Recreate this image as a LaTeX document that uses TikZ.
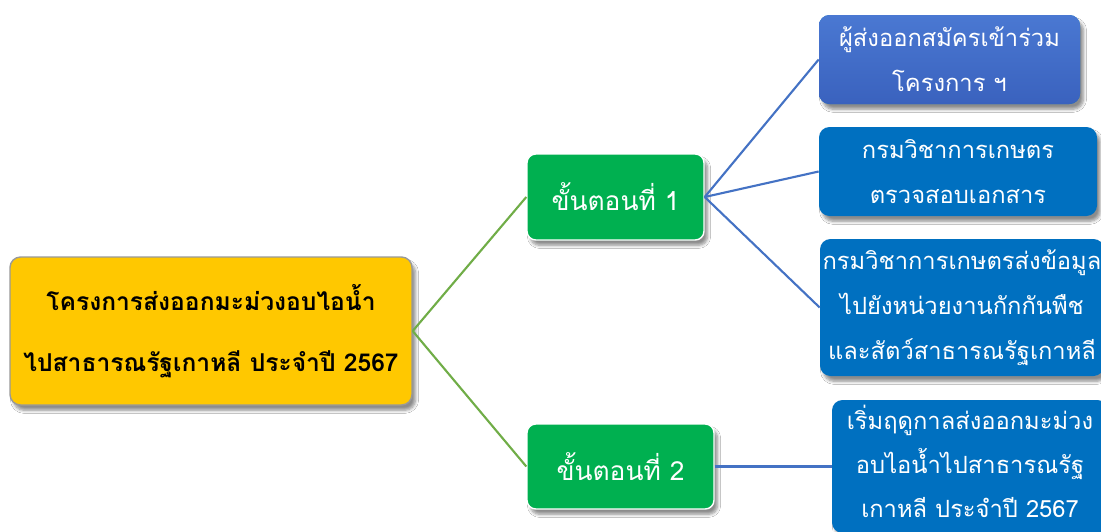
\documentclass[tikz,border=0pt]{standalone}
\usepackage{fontspec}
\newfontfamily\thaifont[Script=Thai]{Loma}
\usetikzlibrary{shadows.blur}
\definecolor{gold}{HTML}{FFC800}
\definecolor{stepgreen}{HTML}{00B050}
\definecolor{boxblue}{HTML}{0070C0}
\definecolor{blueA}{HTML}{4A78D2}
\definecolor{blueB}{HTML}{3A62BE}
\definecolor{lgreen}{HTML}{70AD47}
\definecolor{lblue}{HTML}{4472C4}
\newcommand\pxu{0.02cm}
\tikzset{
  shad/.style={blur shadow={shadow xshift=2pt,shadow yshift=-3pt,shadow blur steps=6,shadow opacity=45}},
  mainbox/.style={draw=gray!80,line width=0.8pt,fill=gold,rounded corners=6pt,shad,align=center,
     font=\thaifont\bfseries\fontsize{14}{35}\selectfont,text=black,inner sep=0pt},
  stepbox/.style={draw=white,line width=0.8pt,fill=stepgreen,rounded corners=5pt,shad,
     font=\thaifont\fontsize{15}{18}\selectfont,text=white,inner sep=0pt},
  infobox/.style={fill=boxblue,rounded corners=6pt,shad,align=center,
     font=\thaifont\fontsize{13.5}{25.5}\selectfont,text=white,inner sep=0pt},
  infotext/.style={align=center,font=\thaifont\fontsize{13.5}{25}\selectfont,text=white,inner sep=0pt},
  gline/.style={draw=lgreen,line width=1.2pt},
  bline/.style={draw=lblue,line width=1.2pt},
}
\begin{document}
\begin{tikzpicture}[x=0.02cm,y=-0.02cm]
\useasboundingbox[fill=white] (0,0) rectangle (1101,531);
\node[mainbox,minimum width=402*\pxu,minimum height=148*\pxu] (main) at (211,331)
  {โครงการส่งออกมะม่วงอบไอน้ำ\\ไปสาธารณรัฐเกาหลี ประจำปี 2567};
\node[stepbox,minimum width=177*\pxu,minimum height=86*\pxu] (s1) at (615.5,197) {ขั้นตอนที่ 1};
\node[stepbox,minimum width=187*\pxu,minimum height=85*\pxu] (s2) at (620.5,466.5) {ขั้นตอนที่ 2};
\node[infobox,top color=blueA,bottom color=blueB,minimum width=261*\pxu,minimum height=89*\pxu] (b1) at (949.5,59.5)
  {ผู้ส่งออกสมัครเข้าร่วม\\โครงการ ฯ};
\node[infobox,minimum width=278*\pxu,minimum height=89*\pxu] (b2) at (958,171.5)
  {กรมวิชาการเกษตร\\ตรวจสอบเอกสาร};
\node[infobox,minimum width=284*\pxu,minimum height=137*\pxu] (b3) at (962,307.5)
  {กรมวิชาการเกษตรส่งข้อมูล\\ไปยังหน่วยงานกักกันพืช\\และสัตว์สาธารณรัฐเกาหลี};
\node[infobox,minimum width=276*\pxu,minimum height=133*\pxu] (b4) at (970,466.5) {};
\node[infotext] (b4t) at (970,461)
  {เริ่มฤดูกาลส่งออกมะม่วง\\อบไอน้ำไปสาธารณรัฐ\\เกาหลี ประจำปี 2567};
\draw[gline] (main.east) -- (s1.west);
\draw[gline] (main.east) -- (s2.west);
\draw[bline] (s1.east) -- (b1.west);
\draw[bline] (s1.east) -- (b2.west);
\draw[bline] (s1.east) -- (b3.west);
\draw[bline] (s2.east) -- (b4.west);
\end{tikzpicture}
\end{document}
